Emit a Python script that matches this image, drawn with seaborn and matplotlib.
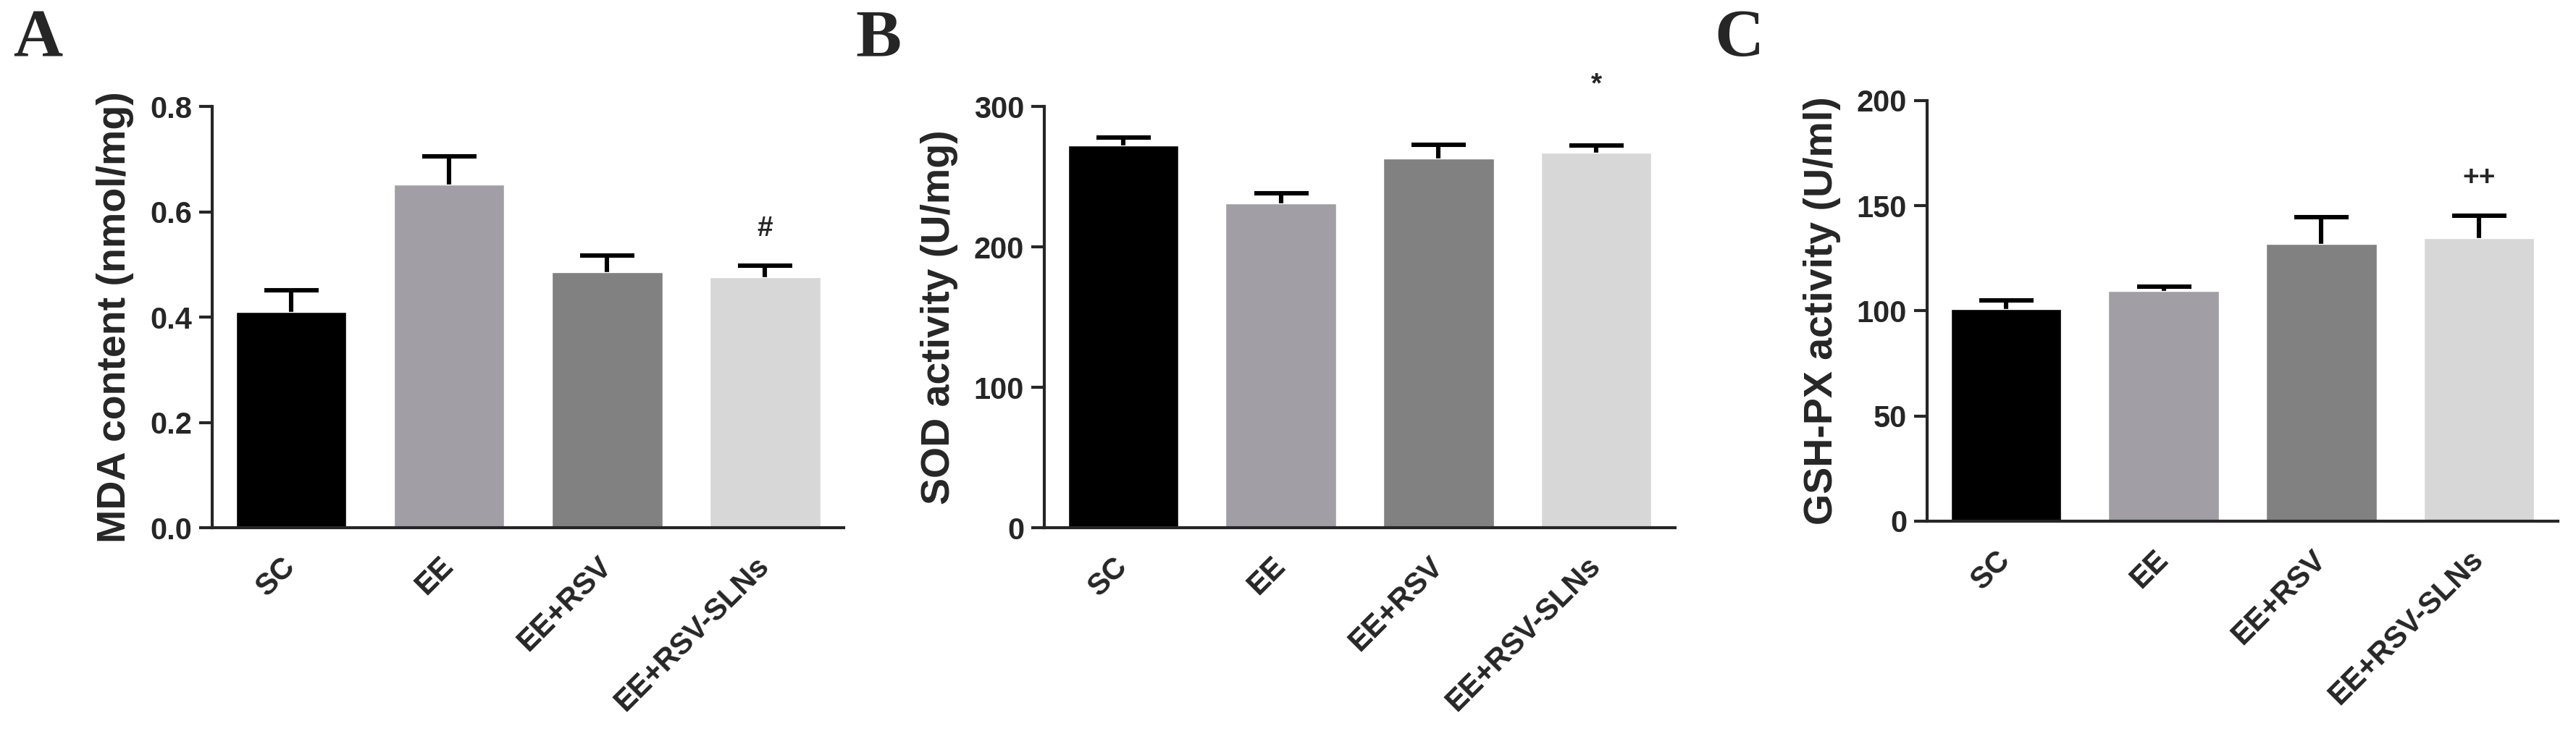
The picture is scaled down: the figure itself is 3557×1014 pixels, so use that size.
import numpy as np
import matplotlib
matplotlib.use('Agg')
import matplotlib.pyplot as plt
import seaborn as sns

# groups and measured values (mean + error)
groups = ['SC', 'EE', 'EE+RSV', 'EE+RSV-SLNs']
bar_colors = ['#000000', '#a19fa5', '#818181', '#d7d7d7']

mda_mean = [0.41, 0.651, 0.485, 0.475]
mda_err = [0.041, 0.054, 0.032, 0.022]

sod_mean = [272.3, 231.2, 263.0, 267.0]
sod_err = [5.3, 7.0, 9.6, 5.0]

gsh_mean = [100.8, 109.3, 131.8, 134.7]
gsh_err = [4.2, 2.2, 12.9, 10.7]

sns.set_style('ticks')
plt.rcParams['font.family'] = ['Liberation Sans', 'DejaVu Sans']
plt.rcParams['font.weight'] = 'bold'

fig = plt.figure(figsize=(35.57, 10.14), dpi=100)

panels = [
    dict(pos=[0.0824, 0.281, 0.2452, 0.574], mean=mda_mean, err=mda_err,
         ylim=(0, 0.8), yticks=[0.0, 0.2, 0.4, 0.6, 0.8], fmt='{:.1f}',
         ylabel='MDA content (nmol/mg)', letter='A', letter_x=0.005,
         mark='#', mark_y=0.568),
    dict(pos=[0.4054, 0.281, 0.2449, 0.574], mean=sod_mean, err=sod_err,
         ylim=(0, 300), yticks=[0, 100, 200, 300], fmt='{:.0f}',
         ylabel='SOD activity (U/mg)', letter='B', letter_x=0.332,
         mark='*', mark_y=315),
    dict(pos=[0.7481, 0.290, 0.2449, 0.573], mean=gsh_mean, err=gsh_err,
         ylim=(0, 200), yticks=[0, 50, 100, 150, 200], fmt='{:.0f}',
         ylabel='GSH-PX activity (U/ml)', letter='C', letter_x=0.6655,
         mark='++', mark_y=163),
]

for p in panels:
    ax = fig.add_axes(p['pos'])
    sns.barplot(x=groups, y=p['mean'], hue=groups, palette=bar_colors,
                errorbar=None, width=0.7, legend=False, ax=ax, saturation=1,
                zorder=2)
    # symmetric bars drawn behind the bars, so only the upper half shows
    ax.errorbar(range(len(groups)), p['mean'], yerr=p['err'],
                fmt='none', ecolor='black', elinewidth=4.4,
                capsize=27, capthick=4.4, zorder=1)
    ax.set_xlim(-0.5, 3.5)
    ax.set_ylim(*p['ylim'])
    ax.set_yticks(p['yticks'])
    ax.set_yticklabels([p['fmt'].format(v) for v in p['yticks']],
                       fontsize=30, fontweight='bold')
    ax.set_xticks(range(len(groups)))
    ax.set_xticklabels(groups, rotation=45, ha='right', va='center',
                       rotation_mode='anchor', fontsize=30, fontweight='bold')
    ax.tick_params(axis='x', length=0, pad=34)
    ax.tick_params(axis='y', length=13, width=3, pad=7)
    ax.set_ylabel(p['ylabel'], fontsize=40, fontweight='bold', labelpad=16)
    ax.set_xlabel('')
    for s in ['top', 'right']:
        ax.spines[s].set_visible(False)
    for s in ['left', 'bottom']:
        ax.spines[s].set_linewidth(3)
    ax.text(3, p['mark_y'], p['mark'], ha='center', va='center',
            fontsize=28, fontweight='bold')
    fig.text(p['letter_x'], 0.946, p['letter'], fontsize=68, fontweight='bold',
             family=['Liberation Serif', 'DejaVu Serif'], ha='left', va='center')

fig.savefig('out.png', dpi=100)
